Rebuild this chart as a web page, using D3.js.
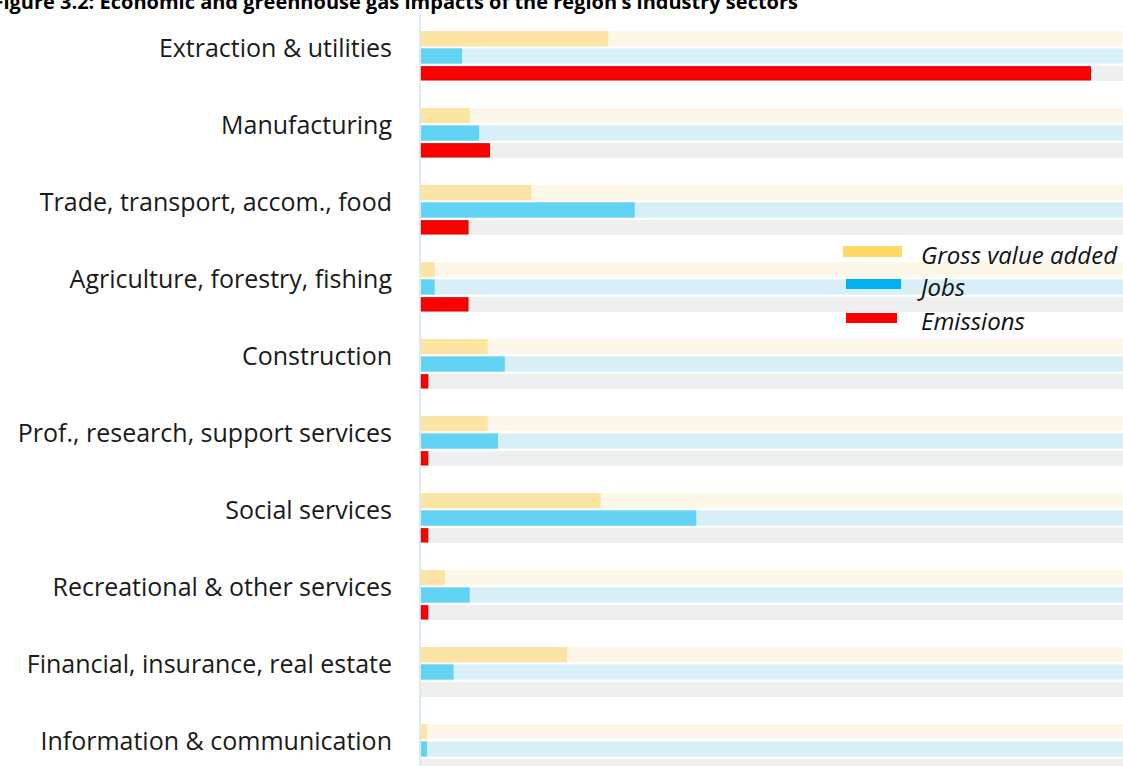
<!DOCTYPE html>
<html>
<head>
<meta charset="utf-8">
<script src="https://cdn.jsdelivr.net/npm/d3@7"></script>
<style>
  html, body { margin: 0; padding: 0; background: #fff; overflow: hidden; }
  svg { display: block; }
  text { font-family: "Open Sans", "Noto Sans", sans-serif; }
</style>
</head>
<body>
<svg id="chart" width="1123" height="766"></svg>
<script>
// Sector shares (% of regional total)
const categories = [
  "Extraction & utilities",
  "Manufacturing",
  "Trade, transport, accom., food",
  "Agriculture, forestry, fishing",
  "Construction",
  "Prof., research, support services",
  "Social services",
  "Recreational & other services",
  "Financial, insurance, real estate",
  "Information & communication"
];
const gvaShare       = [21.9, 5.7, 12.9, 1.6, 7.8, 7.8, 21.0, 2.8, 17.1, 0.7];
const jobsShare      = [4.8, 6.8, 25.0, 1.6, 9.8, 9.0, 32.2, 5.7, 3.8, 0.7];
const emissionsShare = [78.3, 8.0, 5.5, 5.5, 0.8, 0.8, 0.8, 0.8, 0, 0];

const seriesNames = ["Gross value added", "Jobs", "Emissions"];
const seriesKeys = ["gva", "jobs", "emis"];

const title = "Figure 3.2: Economic and greenhouse gas impacts of the region\u2019s industry sectors";

const barColor   = { gva: "#fce4a4", jobs: "#62d3f3", emis: "#ff0000" };
const trackColor = { gva: "#fdf7ea", jobs: "#d8eff8", emis: "#edf0ef" };
const keyColor   = { gva: "#ffd966", jobs: "#00b0f0", emis: "#ff0000" };

const rows = categories.map((c, i) => ({
  category: c,
  gva: gvaShare[i],
  jobs: jobsShare[i],
  emis: emissionsShare[i]
}));

const svg = d3.select("#chart");

const x = d3.scaleLinear().domain([0, 100]).range([421, 1276]);
const y = d3.scaleBand().domain(categories).range([31, 31 + 77 * categories.length]);
const ySub = d3.scaleBand().domain(seriesKeys).range([0, 50]).paddingInner(0.12);

// Title (runs past the top-left corner of the page)
svg.append("text")
  .attr("x", 798).attr("y", 9)
  .attr("text-anchor", "end")
  .attr("font-size", 20).attr("font-weight", 700)
  .attr("fill", "#000")
  .text(title);

const groups = svg.append("g").selectAll("g.sector")
  .data(rows).join("g")
  .attr("class", "sector")
  .attr("transform", d => `translate(0,${y(d.category)})`);

// Full-width background tracks
groups.selectAll("rect.track")
  .data(d => seriesKeys.map(k => ({ key: k, value: d[k] })))
  .join("rect")
  .attr("class", "track")
  .attr("x", x(0))
  .attr("y", d => ySub(d.key))
  .attr("width", x(100) - x(0))
  .attr("height", ySub.bandwidth())
  .attr("fill", d => trackColor[d.key]);

// Category axis line
svg.append("line")
  .attr("x1", x(0) - 1).attr("x2", x(0) - 1)
  .attr("y1", 14).attr("y2", 766)
  .attr("stroke", "#cfe3ef").attr("stroke-width", 1.5);

// Value bars
groups.selectAll("rect.bar")
  .data(d => seriesKeys.map(k => ({ key: k, value: d[k] })).filter(e => e.value > 0))
  .join("rect")
  .attr("class", "bar")
  .attr("x", x(0))
  .attr("y", d => ySub(d.key) + (d.key === "emis" ? 1 : 0))
  .attr("width", d => x(d.value) - x(0))
  .attr("height", d => ySub.bandwidth() - (d.key === "emis" ? 2 : 0))
  .attr("fill", d => barColor[d.key])
  .attr("stroke", d => d.key === "emis" ? "#d80000" : "none")
  .attr("stroke-width", 1);

// Category labels
groups.append("text")
  .attr("x", 392)
  .attr("y", 16)
  .attr("text-anchor", "end")
  .attr("dominant-baseline", "central")
  .attr("font-size", 25)
  .attr("fill", "#1a1a1a")
  .text(d => d.category);

// Legend
const legend = svg.append("g").attr("transform", "translate(843,0)");
const legendRows = [
  { key: "gva",  name: seriesNames[0], sx: 0, sw: 59, sy: 246, sh: 11, ty: 254 },
  { key: "jobs", name: seriesNames[1], sx: 3, sw: 55, sy: 279, sh: 10, ty: 286 },
  { key: "emis", name: seriesNames[2], sx: 3, sw: 51, sy: 313, sh: 10, ty: 320 }
];
legend.selectAll("rect")
  .data(legendRows).join("rect")
  .attr("x", d => d.sx).attr("y", d => d.sy)
  .attr("width", d => d.sw).attr("height", d => d.sh)
  .attr("fill", d => keyColor[d.key]);
legend.selectAll("text")
  .data(legendRows).join("text")
  .attr("x", 78).attr("y", d => d.ty)
  .attr("dominant-baseline", "central")
  .attr("font-size", 24).attr("font-style", "italic")
  .attr("fill", "#111")
  .text(d => d.name);
</script>
</body>
</html>
